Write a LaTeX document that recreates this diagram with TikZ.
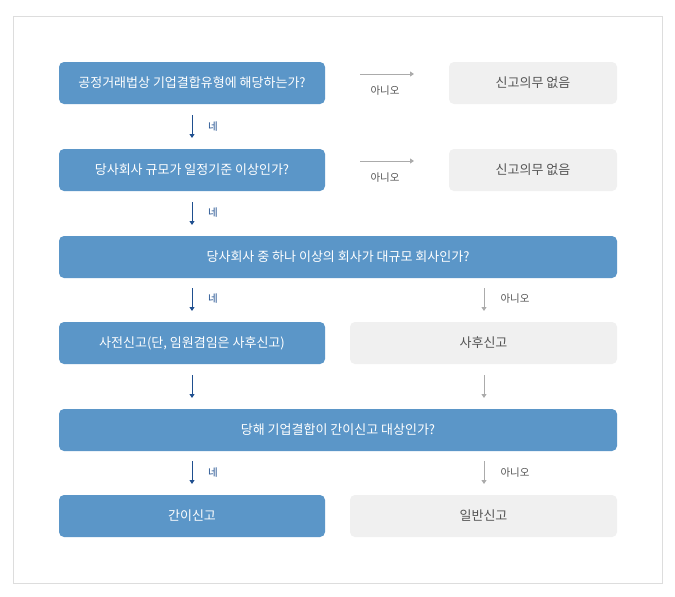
\documentclass[tikz,border=0pt]{standalone}
\usepackage{fontspec}
\setmainfont{Noto Sans CJK KR}
\usetikzlibrary{arrows.meta}
\definecolor{boxblue}{HTML}{5B96C8}
\definecolor{boxgray}{HTML}{F0F0F0}
\definecolor{arrblue}{HTML}{1F4F8F}
\definecolor{arrgray}{HTML}{ABABAB}
\definecolor{txtgray}{HTML}{555555}
\definecolor{framegray}{HTML}{DDDDDD}
\tikzset{
  x=1pt, y=-1pt,
  bluebox/.style={draw=none, fill=boxblue, rounded corners=5pt, text=white, font=\fontsize{13}{15}\selectfont, inner sep=0pt},
  graybox/.style={draw=none, fill=boxgray, rounded corners=5pt, text=txtgray, font=\fontsize{13}{15}\selectfont, inner sep=0pt},
  yesarr/.style={draw=arrblue, line width=1pt, -{Triangle[width=5pt,length=4pt]}},
  noarr/.style={draw=arrgray, line width=0.8pt, -{Triangle[width=5pt,length=4pt]}},
  yeslbl/.style={text=arrblue, font=\fontsize{10.5}{12}\selectfont, inner sep=0pt},
  nolbl/.style={text=txtgray, font=\fontsize{10.5}{12}\selectfont, inner sep=0pt},
}
\begin{document}
\begin{tikzpicture}
\useasboundingbox (0,0) rectangle (675,597);
\fill[white] (0,0) rectangle (675,597);
\draw[framegray, line width=0.8pt] (13.5,16.5) rectangle (662,583);

% row 1
\node[bluebox, minimum width=266pt, minimum height=42pt] (q1) at (192,83) {공정거래법상 기업결합유형에 해당하는가?};
\node[graybox, minimum width=168pt, minimum height=42pt] (n1) at (533,83) {신고의무 없음};
\coordinate (a1s) at (360,74);
\coordinate (a1e) at (414,74);
\draw[noarr] (a1s) -- (a1e);
\node[nolbl] (l1) at (385,91) {아니오};

% row 2
\node[bluebox, minimum width=266pt, minimum height=42pt] (q2) at (192,170) {당사회사 규모가 일정기준 이상인가?};
\node[graybox, minimum width=168pt, minimum height=42pt] (n2) at (533,170) {신고의무 없음};
\coordinate (a2s) at (360,161);
\coordinate (a2e) at (414,161);
\draw[noarr] (a2s) -- (a2e);
\node[nolbl] (l2) at (385,178) {아니오};

% row 3
\node[bluebox, minimum width=558pt, minimum height=42pt] (q3) at (338,257) {당사회사 중 하나 이상의 회사가 대규모 회사인가?};

% row 4
\node[bluebox, minimum width=266pt, minimum height=42pt] (r4a) at (192,343) {사전신고(단, 임원겸임은 사후신고)};
\node[graybox, minimum width=267pt, minimum height=42pt] (r4b) at (483.5,343) {사후신고};

% row 5
\node[bluebox, minimum width=558pt, minimum height=42pt] (q5) at (338,430) {당해 기업결합이 간이신고 대상인가?};

% row 6
\node[bluebox, minimum width=266pt, minimum height=42pt] (r6a) at (192,516) {간이신고};
\node[graybox, minimum width=267pt, minimum height=42pt] (r6b) at (483.5,516) {일반신고};

% vertical arrows
\coordinate (v1s) at (192,115); \coordinate (v1e) at (192,138);
\draw[yesarr] (v1s) -- (v1e);
\node[yeslbl] (y1) at (213,127) {네};

\coordinate (v2s) at (192,202); \coordinate (v2e) at (192,225);
\draw[yesarr] (v2s) -- (v2e);
\node[yeslbl] (y2) at (213,213) {네};

\coordinate (v3s) at (192,288); \coordinate (v3e) at (192,311);
\draw[yesarr] (v3s) -- (v3e);
\node[yeslbl] (y3) at (213,299) {네};
\coordinate (w3s) at (484,288); \coordinate (w3e) at (484,311);
\draw[noarr] (w3s) -- (w3e);
\node[nolbl] (m3) at (515,299) {아니오};

\coordinate (v4s) at (192,375); \coordinate (v4e) at (192,398);
\draw[yesarr] (v4s) -- (v4e);
\coordinate (w4s) at (484,375); \coordinate (w4e) at (484,398);
\draw[noarr] (w4s) -- (w4e);

\coordinate (v5s) at (192,461); \coordinate (v5e) at (192,484);
\draw[yesarr] (v5s) -- (v5e);
\node[yeslbl] (y5) at (213,473) {네};
\coordinate (w5s) at (484,461); \coordinate (w5e) at (484,484);
\draw[noarr] (w5s) -- (w5e);
\node[nolbl] (m5) at (515,473) {아니오};
\end{tikzpicture}
\end{document}
